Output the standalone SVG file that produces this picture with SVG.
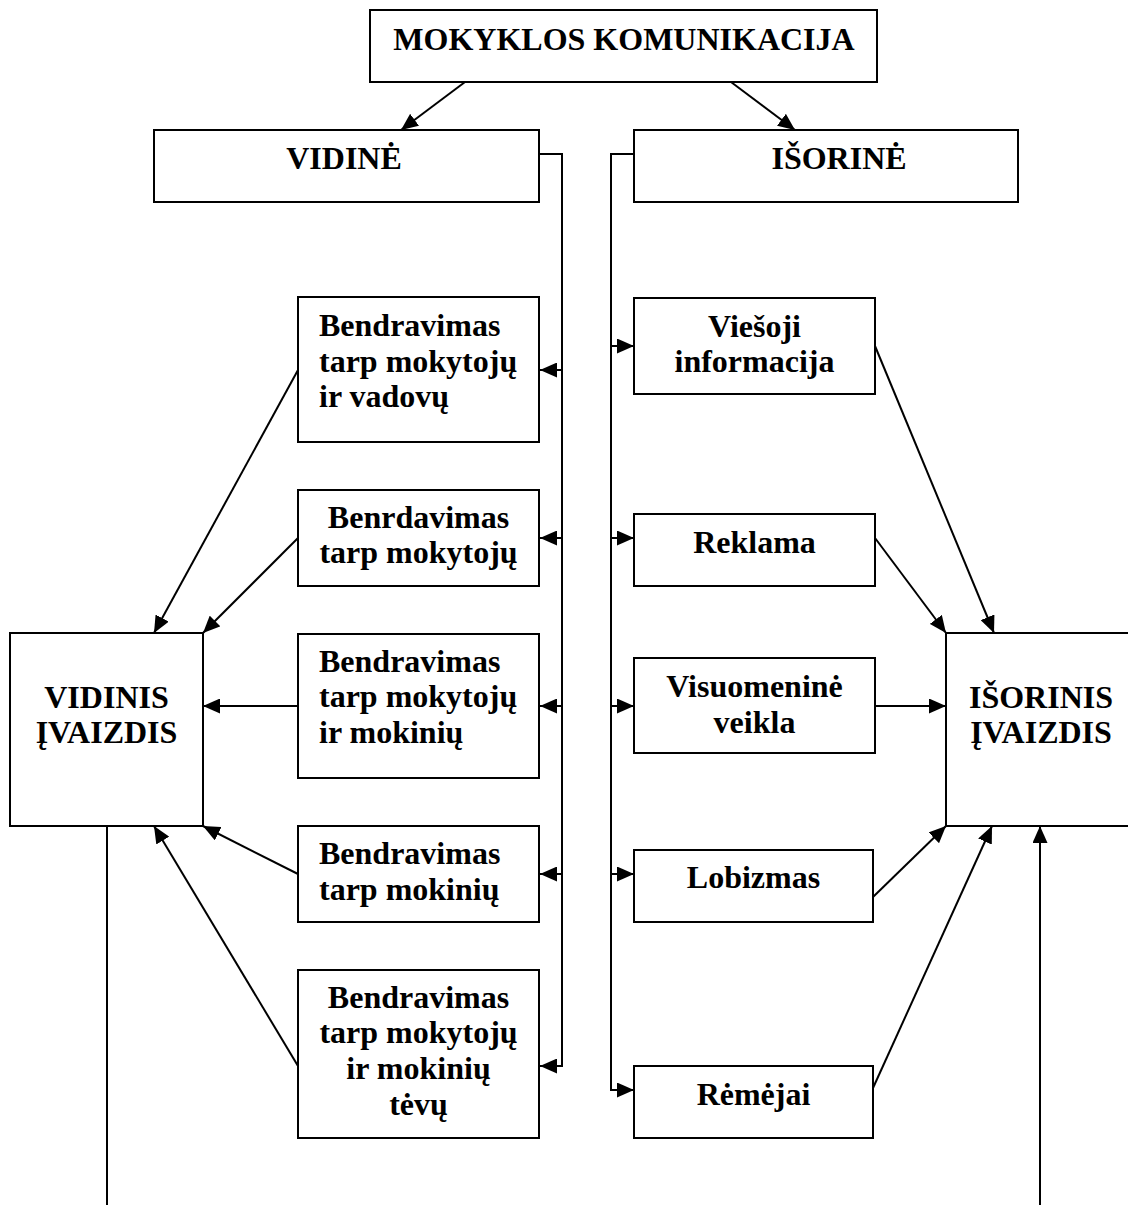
<svg xmlns="http://www.w3.org/2000/svg" width="1128" height="1205" viewBox="0 0 1128 1205">
<style>
.box{fill:#fff;stroke:#000;stroke-width:2}
.t{font-family:"Liberation Serif","Times New Roman",serif;font-weight:bold;font-size:32px;fill:#000}
.c{text-anchor:middle}
.ln{fill:none;stroke:#000;stroke-width:2}
</style>
<defs>
<marker id="ah" markerUnits="userSpaceOnUse" markerWidth="17" markerHeight="15" refX="17" refY="7.5" orient="auto">
<path d="M0,0 L17,7.5 L0,15 z" fill="#000"/>
</marker>
</defs>
<rect width="1128" height="1205" fill="#fff"/>

<g id="connectors">
<line class="ln" x1="465" y1="82" x2="401" y2="130" marker-end="url(#ah)"/>
<line class="ln" x1="731" y1="82" x2="795" y2="130" marker-end="url(#ah)"/>
<polyline class="ln" points="539,154 562,154 562,1066"/>
<line class="ln" x1="562" y1="370" x2="540" y2="370" marker-end="url(#ah)"/>
<line class="ln" x1="562" y1="538" x2="540" y2="538" marker-end="url(#ah)"/>
<line class="ln" x1="562" y1="706" x2="540" y2="706" marker-end="url(#ah)"/>
<line class="ln" x1="562" y1="874" x2="540" y2="874" marker-end="url(#ah)"/>
<line class="ln" x1="563" y1="1066" x2="540" y2="1066" marker-end="url(#ah)"/>
<polyline class="ln" points="634,154 611,154 611,1090"/>
<line class="ln" x1="611" y1="346" x2="634" y2="346" marker-end="url(#ah)"/>
<line class="ln" x1="611" y1="538" x2="634" y2="538" marker-end="url(#ah)"/>
<line class="ln" x1="611" y1="706" x2="634" y2="706" marker-end="url(#ah)"/>
<line class="ln" x1="611" y1="874" x2="634" y2="874" marker-end="url(#ah)"/>
<line class="ln" x1="610" y1="1090" x2="634" y2="1090" marker-end="url(#ah)"/>
<line class="ln" x1="298" y1="370" x2="154" y2="633" marker-end="url(#ah)"/>
<line class="ln" x1="298" y1="538" x2="203" y2="633" marker-end="url(#ah)"/>
<line class="ln" x1="298" y1="706" x2="203" y2="706" marker-end="url(#ah)"/>
<line class="ln" x1="298" y1="874" x2="203" y2="826" marker-end="url(#ah)"/>
<line class="ln" x1="298" y1="1066" x2="154" y2="826" marker-end="url(#ah)"/>
<line class="ln" x1="107" y1="826" x2="107" y2="1205"/>
<line class="ln" x1="875" y1="346" x2="994" y2="633" marker-end="url(#ah)"/>
<line class="ln" x1="875" y1="538" x2="946" y2="633" marker-end="url(#ah)"/>
<line class="ln" x1="875" y1="706" x2="946" y2="706" marker-end="url(#ah)"/>
<line class="ln" x1="873" y1="897" x2="946" y2="826" marker-end="url(#ah)"/>
<line class="ln" x1="873" y1="1088" x2="992" y2="826" marker-end="url(#ah)"/>
<line class="ln" x1="1040" y1="1205" x2="1040" y2="826" marker-end="url(#ah)"/>
</g>

<g id="mokyklos-komunikacija">
<rect class="box" x="370" y="10" width="507" height="72"/>
<text class="t c" x="624" y="50">MOKYKLOS KOMUNIKACIJA</text>
</g>
<g id="vidine">
<rect class="box" x="154" y="130" width="385" height="72"/>
<text class="t c" x="344" y="169">VIDINĖ</text>
</g>
<g id="isorine">
<rect class="box" x="634" y="130" width="384" height="72"/>
<text class="t c" x="839" y="169">IŠORINĖ</text>
</g>

<g id="bendravimas-vadovu">
<rect class="box" x="298" y="297" width="241" height="145"/>
<text class="t" x="319" y="336">Bendravimas</text>
<text class="t" x="319" y="372">tarp mokytojų</text>
<text class="t" x="319" y="407">ir vadovų</text>
</g>
<g id="benrdavimas-mokytoju">
<rect class="box" x="298" y="490" width="241" height="96"/>
<text class="t c" x="418.5" y="528">Benrdavimas</text>
<text class="t c" x="418.5" y="563">tarp mokytojų</text>
</g>
<g id="bendravimas-mokiniu-mokytoju">
<rect class="box" x="298" y="634" width="241" height="144"/>
<text class="t" x="319" y="672">Bendravimas</text>
<text class="t" x="319" y="707">tarp mokytojų</text>
<text class="t" x="319" y="743">ir mokinių</text>
</g>
<g id="bendravimas-mokiniu">
<rect class="box" x="298" y="826" width="241" height="96"/>
<text class="t" x="319" y="864">Bendravimas</text>
<text class="t" x="319" y="900">tarp mokinių</text>
</g>
<g id="bendravimas-tevu">
<rect class="box" x="298" y="970" width="241" height="168"/>
<text class="t c" x="418.5" y="1008">Bendravimas</text>
<text class="t c" x="418.5" y="1043">tarp mokytojų</text>
<text class="t c" x="418.5" y="1079">ir mokinių</text>
<text class="t c" x="418.5" y="1115">tėvų</text>
</g>

<g id="viesoji-informacija">
<rect class="box" x="634" y="298" width="241" height="96"/>
<text class="t c" x="754.5" y="337">Viešoji</text>
<text class="t c" x="754.5" y="372">informacija</text>
</g>
<g id="reklama">
<rect class="box" x="634" y="514" width="241" height="72"/>
<text class="t c" x="754.5" y="553">Reklama</text>
</g>
<g id="visuomenine-veikla">
<rect class="box" x="634" y="658" width="241" height="95"/>
<text class="t c" x="754.5" y="697">Visuomeninė</text>
<text class="t c" x="754.5" y="733">veikla</text>
</g>
<g id="lobizmas">
<rect class="box" x="634" y="850" width="239" height="72"/>
<text class="t c" x="753.5" y="888">Lobizmas</text>
</g>
<g id="remejai">
<rect class="box" x="634" y="1066" width="239" height="72"/>
<text class="t c" x="753.5" y="1105">Rėmėjai</text>
</g>

<g id="vidinis-ivaizdis">
<rect class="box" x="10" y="633" width="193" height="193"/>
<text class="t c" x="106.5" y="708">VIDINIS</text>
<text class="t c" x="106.5" y="743">ĮVAIZDIS</text>
</g>
<g id="isorinis-ivaizdis">
<rect class="box" x="946" y="633" width="193" height="193"/>
<text class="t c" x="1041" y="708">IŠORINIS</text>
<text class="t c" x="1041" y="743">ĮVAIZDIS</text>
</g>
</svg>
